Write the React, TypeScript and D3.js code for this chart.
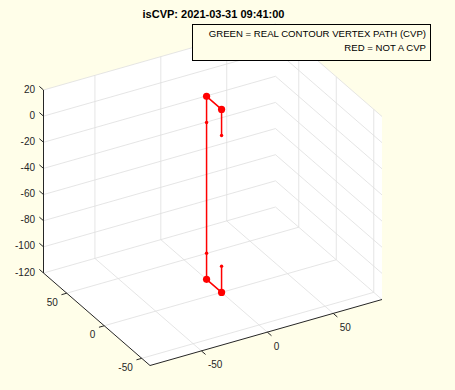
import React from "react";
import * as d3 from "d3";

// ---- data ----
const titleText = "isCVP: 2021-03-31 09:41:00";
const legendLines = ["GREEN = REAL CONTOUR VERTEX PATH (CVP)", "RED = NOT A CVP"];
const xDomain = [-89, 87];
const yDomain = [-61, 81];
const zDomain = [-120, 20];
const xTicks = [-50, 0, 50];
const yTicks = [-50, 0, 50];
const zTicks = [-120, -100, -80, -60, -40, -20, 0, 20];
const pathX = [0, 0, 0, 0, 0, 0, 0, 0];
const pathY = [0, 0, 20, 20, 20, 20, 0, 0];
const pathZ = [0, 20, 20, 0, -100, -120, -120, -100];
const isEndpoint = [false, true, true, false, false, true, true, false];

const W = 455;
const H = 390;
const BG = "#FFFEE9";
const AX = "#262626";
const GRID = "#dedede";
const FONT = "'Liberation Sans', Arial, Helvetica, sans-serif";

// projection basis (orthographic view)
const O = [150, 365.5];
const EX = [232, -66];
const EY = [-106.5, -92.5];
const EZ = [0, -183];

const xs = d3.scaleLinear().domain(xDomain).range([0, 1]);
const ys = d3.scaleLinear().domain(yDomain).range([0, 1]);
const zs = d3.scaleLinear().domain(zDomain).range([0, 1]);

function proj(x: number, y: number, z: number): [number, number] {
  const u = xs(x), v = ys(y), w = zs(z);
  return [O[0] + u * EX[0] + v * EY[0] + w * EZ[0], O[1] + u * EX[1] + v * EY[1] + w * EZ[1]];
}

function unit(v: number[]) {
  const l = Math.hypot(v[0], v[1]);
  return [v[0] / l, v[1] / l];
}

export default function App() {
  const [x0, x1] = xDomain;
  const [y0, y1] = yDomain;
  const [z0, z1] = zDomain;
  const hull = [
    proj(x0, y1, z1),
    proj(x1, y1, z1),
    proj(x1, y0, z1),
    proj(x1, y0, z0),
    proj(x0, y0, z0),
    proj(x0, y1, z0),
  ];
  const line = d3.line<[number, number]>();
  const seg = (a: [number, number], b: [number, number]) => line([a, b]) || "";

  const grids: string[] = [];
  // floor
  xTicks.forEach((t) => grids.push(seg(proj(t, y0, z0), proj(t, y1, z0))));
  yTicks.forEach((t) => grids.push(seg(proj(x0, t, z0), proj(x1, t, z0))));
  // back wall y = ymax
  xTicks.forEach((t) => grids.push(seg(proj(t, y1, z0), proj(t, y1, z1))));
  zTicks.forEach((t) => grids.push(seg(proj(x0, y1, t), proj(x1, y1, t))));
  // back wall x = xmax
  yTicks.forEach((t) => grids.push(seg(proj(x1, t, z0), proj(x1, t, z1))));
  zTicks.forEach((t) => grids.push(seg(proj(x1, y0, t), proj(x1, y1, t))));

  const uy = unit(EY);
  const ux = unit(EX);
  const TL = 5.5;

  const pts = pathX.map((x, i) => proj(x, pathY[i], pathZ[i]));

  return (
    <svg
      width={W}
      height={H}
      style={{ position: "fixed", left: 0, top: 0, display: "block" }}
      fontFamily={FONT}
    >
      <rect x={0} y={0} width={W} height={H} fill={BG} />
      <polygon points={hull.map((p) => p.join(",")).join(" ")} fill="#ffffff" />
      <g stroke={GRID} strokeWidth={0.8} fill="none">
        {grids.map((d, i) => (
          <path key={i} d={d} />
        ))}
      </g>
      {/* axes lines */}
      <g stroke={AX} strokeWidth={1} fill="none">
        <path d={seg(proj(x0, y1, z0), proj(x0, y1, z1))} />
        <path d={seg(proj(x0, y0, z0), proj(x1, y0, z0))} />
        <path d={seg(proj(x0, y1, z0), proj(x0, y0, z0))} />
        {zTicks.map((t) => {
          const p = proj(x0, y1, t);
          return <path key={"zt" + t} d={seg(p, [p[0] + uy[0] * TL, p[1] + uy[1] * TL])} />;
        })}
        {xTicks.map((t) => {
          const p = proj(t, y0, z0);
          return <path key={"xt" + t} d={seg(p, [p[0] - uy[0] * TL, p[1] - uy[1] * TL])} />;
        })}
        {yTicks.map((t) => {
          const p = proj(x0, t, z0);
          return <path key={"yt" + t} d={seg(p, [p[0] - ux[0] * TL, p[1] - ux[1] * TL])} />;
        })}
      </g>
      {/* tick labels */}
      <g fill={AX} fontSize={10}>
        {zTicks.map((t) => {
          const p = proj(x0, y1, t);
          return (
            <text key={"zl" + t} x={p[0] - 8.5} y={p[1] - 1} textAnchor="end" dominantBaseline="central">
              {t}
            </text>
          );
        })}
        {xTicks.map((t) => {
          const p = proj(t, y0, z0);
          return (
            <text key={"xl" + t} x={p[0] + 6.5} y={p[1] + 14} textAnchor="start" dominantBaseline="central">
              {t}
            </text>
          );
        })}
        {yTicks.map((t) => {
          const p = proj(x0, t, z0);
          return (
            <text key={"yl" + t} x={p[0] - 9} y={p[1] + 9} textAnchor="end" dominantBaseline="central">
              {t}
            </text>
          );
        })}
      </g>
      {/* data */}
      <path d={line(pts) || ""} stroke="#ff0000" strokeWidth={1.5} fill="none" strokeLinejoin="round" />
      {pts.map((p, i) => (
        <circle key={"m" + i} cx={p[0]} cy={p[1]} r={isEndpoint[i] ? 3.6 : 1.7} fill="#ff0000" />
      ))}
      {/* title */}
      <text x={213.5} y={18} textAnchor="middle" fontSize={11} fontWeight="bold" fill="#000">
        {titleText}
      </text>
      {/* legend annotation */}
      <rect x={192.5} y={24.5} width={238} height={36} fill={BG} stroke="#000" strokeWidth={1} />
      {legendLines.map((s, i) => (
        <text key={"lg" + i} x={426} y={37 + i * 13.5} textAnchor="end" fontSize={9.6} fill="#000">
          {s}
        </text>
      ))}
    </svg>
  );
}
